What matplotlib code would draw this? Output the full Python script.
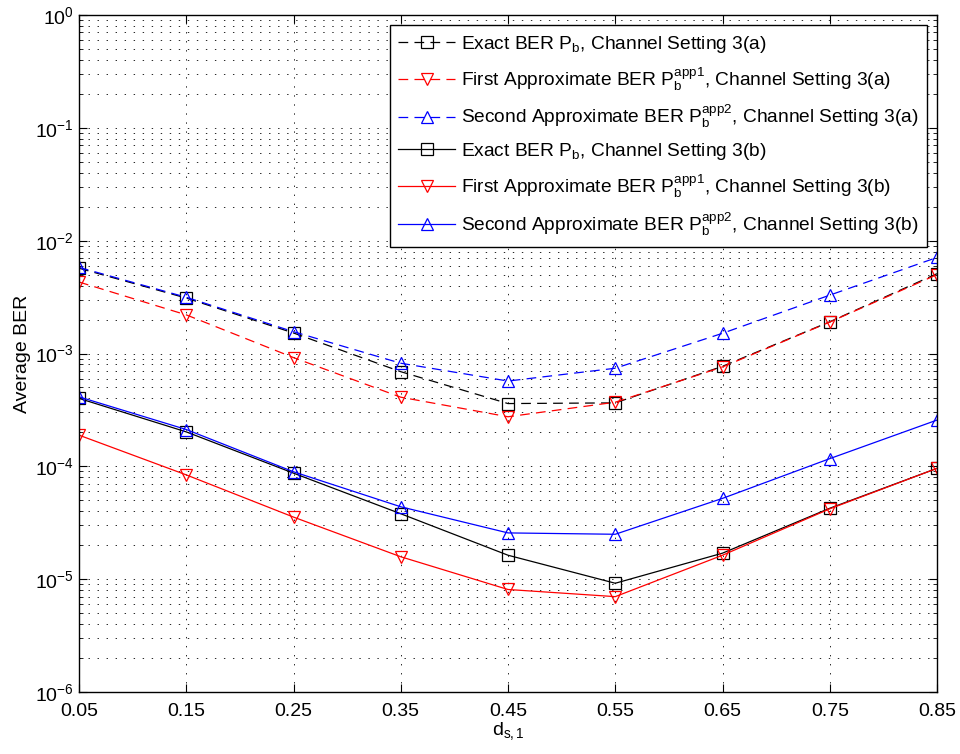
import matplotlib
matplotlib.use("Agg")
import matplotlib.pyplot as plt
from matplotlib.ticker import NullFormatter, FixedLocator, LogFormatterMathtext

plt.rcParams['font.family'] = ['Liberation Sans', 'DejaVu Sans']
plt.rcParams['mathtext.fontset'] = 'custom'
plt.rcParams['mathtext.rm'] = 'Liberation Sans'
plt.rcParams['mathtext.it'] = 'Liberation Sans'
plt.rcParams['mathtext.default'] = 'regular'
plt.rcParams['lines.scale_dashes'] = False

# distance parameter d_{s,1}
d_s1 = [0.05, 0.15, 0.25, 0.35, 0.45, 0.55, 0.65, 0.75, 0.85]

# Channel Setting 3(a)
exact_a = [5.7e-3, 3.1e-3, 1.52e-3, 6.9e-4, 3.6e-4, 3.65e-4, 7.7e-4, 1.91e-3, 5.1e-3]
app1_a = [4.3e-3, 2.2e-3, 9.2e-4, 4.1e-4, 2.75e-4, 3.7e-4, 7.6e-4, 1.9e-3, 5.0e-3]
app2_a = [5.8e-3, 3.15e-3, 1.56e-3, 8.2e-4, 5.7e-4, 7.4e-4, 1.51e-3, 3.29e-3, 7.1e-3]

# Channel Setting 3(b)
exact_b = [4.0e-4, 2.02e-4, 8.7e-5, 3.8e-5, 1.63e-5, 9.2e-6, 1.7e-5, 4.25e-5, 9.6e-5]
app1_b = [1.89e-4, 8.4e-5, 3.55e-5, 1.58e-5, 8.1e-6, 7.0e-6, 1.63e-5, 4.2e-5, 9.6e-5]
app2_b = [4.13e-4, 2.12e-4, 8.95e-5, 4.38e-5, 2.57e-5, 2.5e-5, 5.2e-5, 1.17e-4, 2.57e-4]

x_ticks = [0.05, 0.15, 0.25, 0.35, 0.45, 0.55, 0.65, 0.75, 0.85]
y_ticks = [1e-6, 1e-5, 1e-4, 1e-3, 1e-2, 1e-1, 1e0]

labels = [
    r'Exact BER $P_b$, Channel Setting 3(a)',
    r'First Approximate BER $P_b^{app1}$, Channel Setting 3(a)',
    r'Second Approximate BER $P_b^{app2}$, Channel Setting 3(a)',
    r'Exact BER $P_b$, Channel Setting 3(b)',
    r'First Approximate BER $P_b^{app1}$, Channel Setting 3(b)',
    r'Second Approximate BER $P_b^{app2}$, Channel Setting 3(b)',
]

fig = plt.figure(figsize=(9.6, 7.54), dpi=100)
ax = fig.add_axes([79/960, 62/754, 858/960, 677/754])

dash = (7, 4.5)
series = [
    (exact_a, 'black', 's', True),
    (app1_a, 'red', 'v', True),
    (app2_a, 'blue', '^', True),
    (exact_b, 'black', 's', False),
    (app1_b, 'red', 'v', False),
    (app2_b, 'blue', '^', False),
]
for (vals, col, mk, dashed), lab in zip(series, labels):
    line, = ax.plot(d_s1, vals, color=col, marker=mk, markersize=9,
                    markerfacecolor='none', markeredgecolor=col,
                    markeredgewidth=0.9, linewidth=0.9, label=lab)
    if dashed:
        line.set_dashes(dash)

ax.set_yscale('log')
ax.set_xlim(0.05, 0.85)
ax.set_ylim(1e-6, 1)
ax.xaxis.set_major_locator(FixedLocator(x_ticks))
ax.set_xticklabels(['%.2f' % v for v in x_ticks])
ax.yaxis.set_major_locator(FixedLocator(y_ticks))
ax.yaxis.set_major_formatter(LogFormatterMathtext())
minor = [m * t for t in y_ticks[:-1] for m in range(2, 10)]
ax.yaxis.set_minor_locator(FixedLocator(minor))
ax.yaxis.set_minor_formatter(NullFormatter())

grid_style = dict(linestyle=(0, (1, 5.5)), color='0.15', linewidth=0.7)
ax.grid(True, which='major', axis='both', **grid_style)
ax.grid(True, which='minor', axis='y', **grid_style)

ax.tick_params(which='both', direction='in', top=True, right=True, labelsize=14)
ax.tick_params(which='major', length=6, width=0.8)
ax.tick_params(which='minor', length=3, width=0.6)
ax.tick_params(axis='x', pad=8)
for sp in ax.spines.values():
    sp.set_linewidth(1.0)

ax.set_xlabel(r'$d_{s,1}$', fontsize=14, labelpad=0)
ax.set_ylabel('Average BER', fontsize=14, labelpad=3)

leg = ax.legend(loc='upper right', bbox_to_anchor=((927-79)/858, 1-(25-15)/677),
                borderaxespad=0, fontsize=13.8, fancybox=False, framealpha=1,
                edgecolor='black', handlelength=2.95, labelspacing=0.55,
                borderpad=0.45, handletextpad=0.3)
leg.get_frame().set_linewidth(1.0)

fig.savefig('out.png', dpi=100)
